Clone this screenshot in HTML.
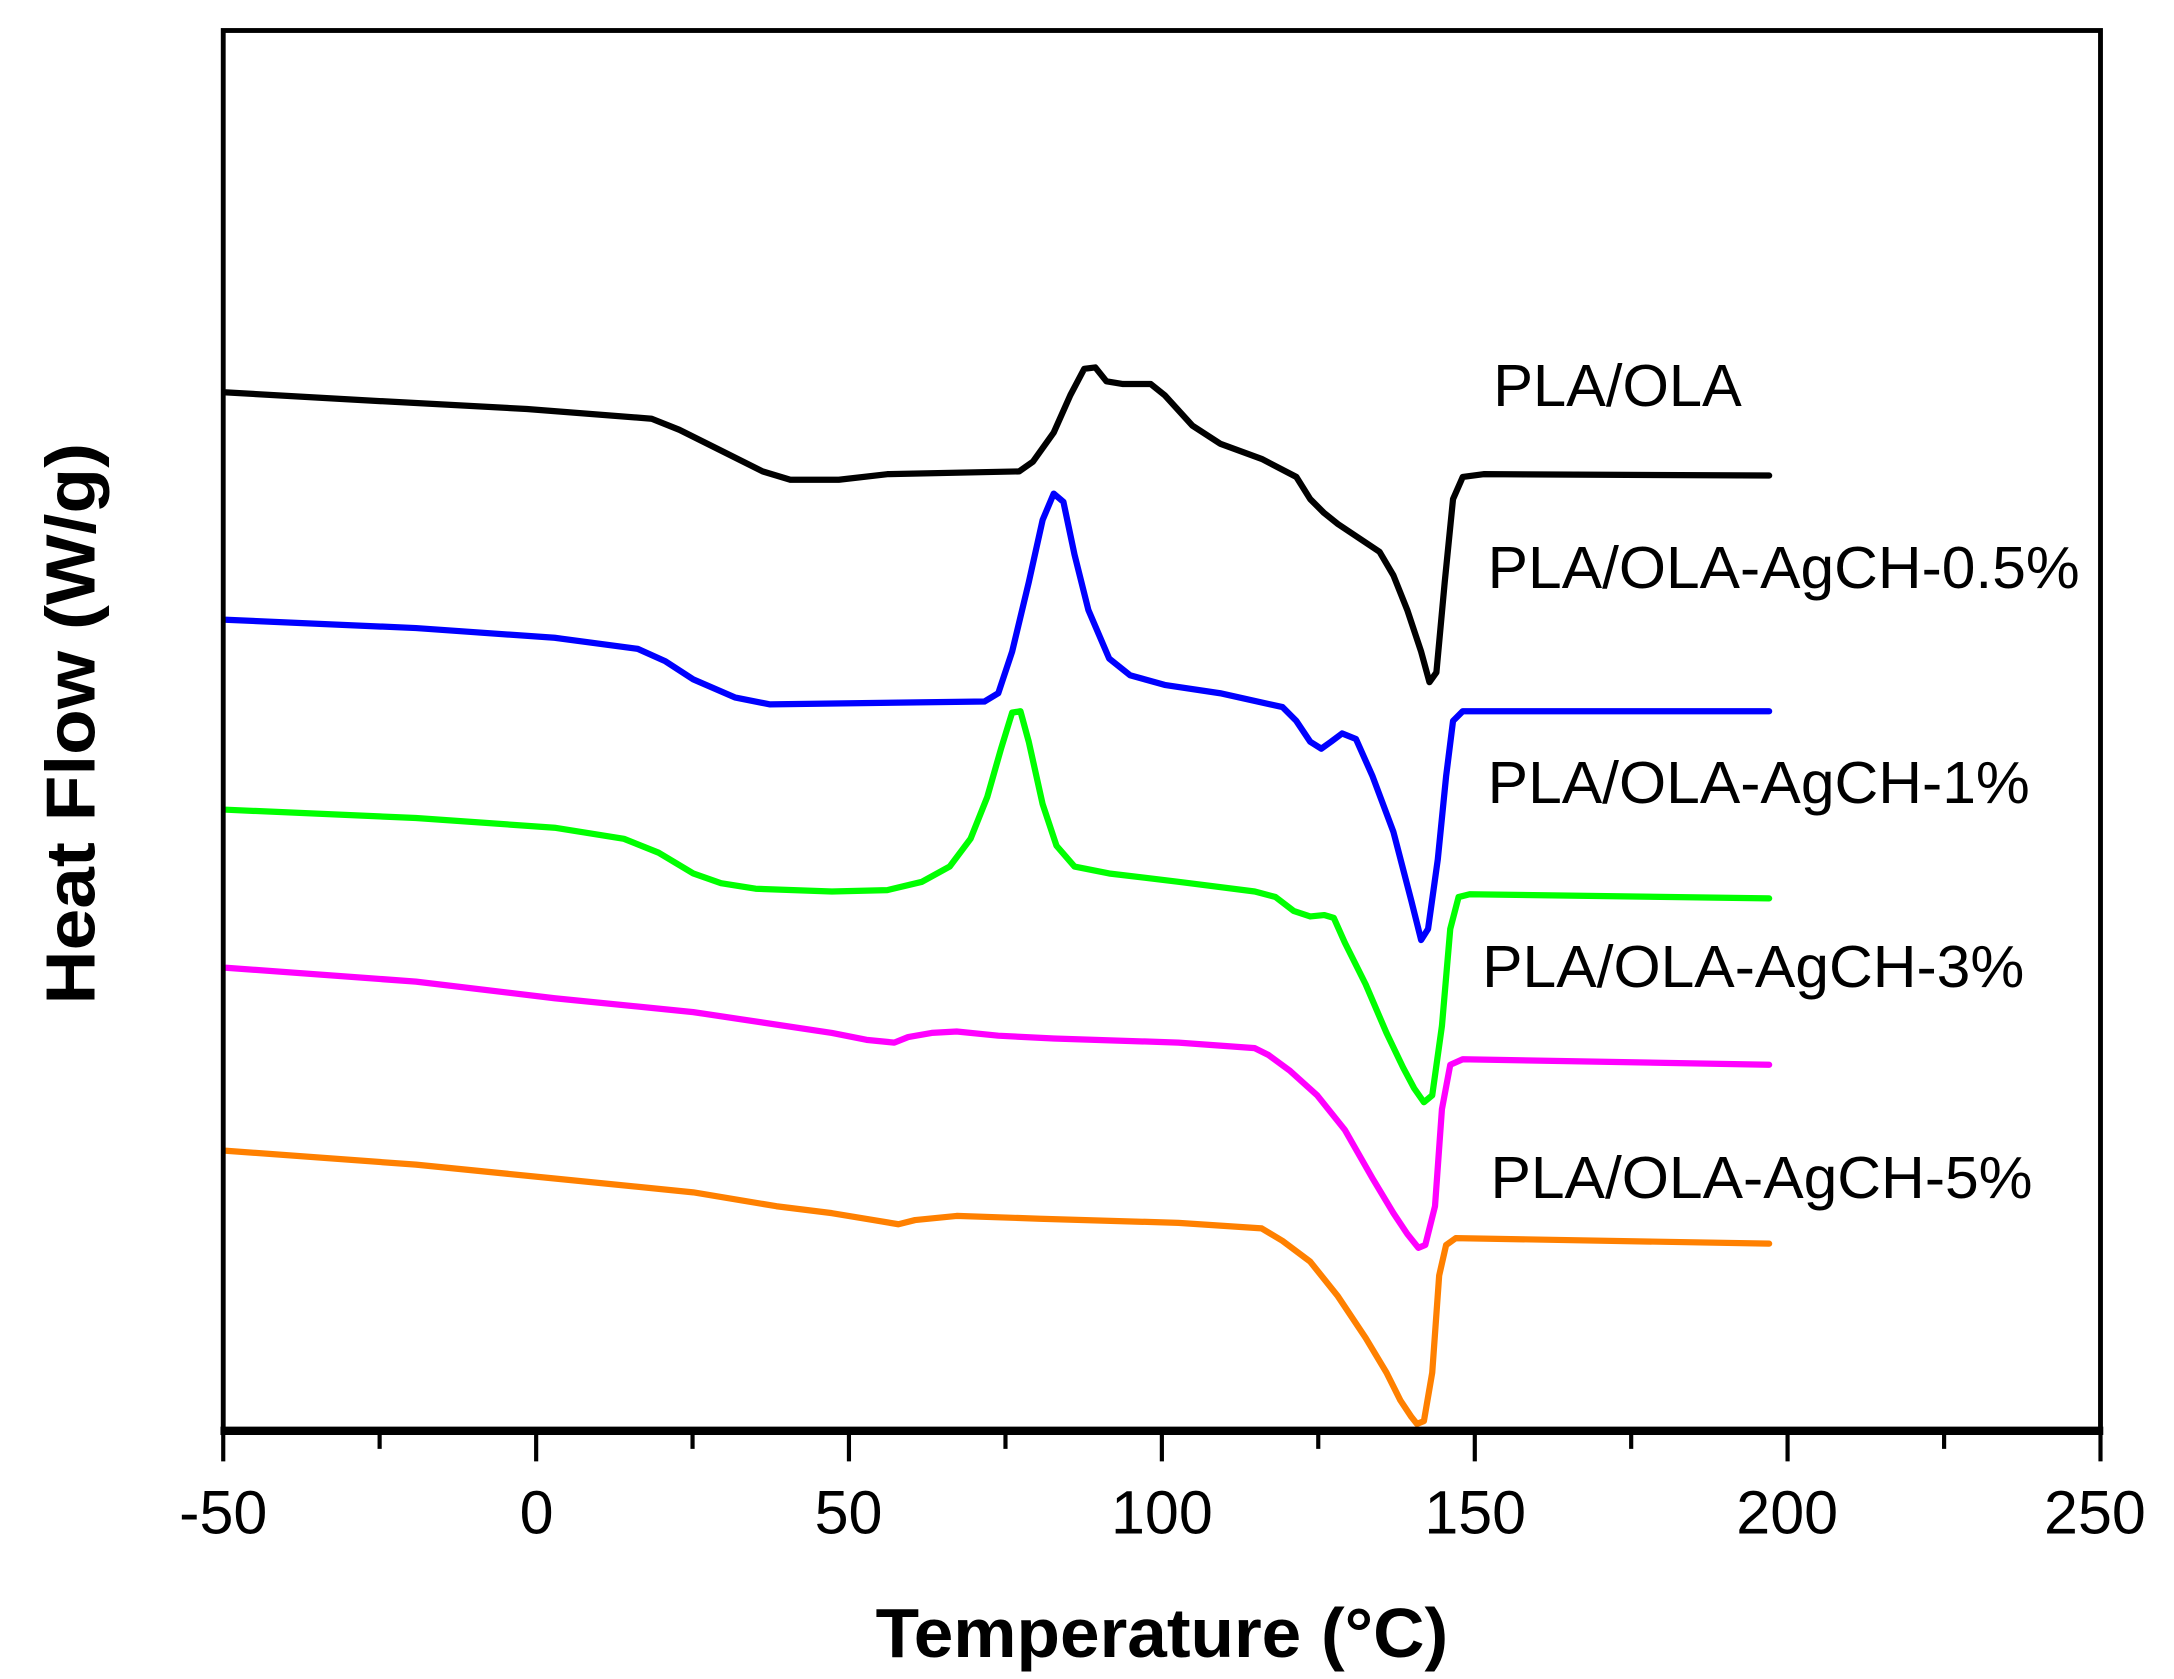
<!DOCTYPE html>
<html><head><meta charset="utf-8"><style>html,body{margin:0;padding:0;background:#fff}svg{display:block}</style></head>
<body>
<svg width="2174" height="1679" viewBox="0 0 1568 1211" xmlns="http://www.w3.org/2000/svg" font-family="Liberation Sans, Arial, sans-serif">
<rect width="1568" height="1211" fill="#fff"/>
<g fill="none" stroke-width="4.5" stroke-linejoin="round" stroke-linecap="round">
<polyline stroke="#000" points="163,283 250,288 380,295 470,302 490,310 520,325 550,340 570,346 605,346 640,342 735,340 745,333 760,312 772,285 782,266 790,265 798,275 810,277 830,277 840,285 860,307 880,320 910,331 935,344 945,360 955,370 965,378 980,388 995,398 1005,415 1015,440 1025,470 1031,492 1036,485 1042,420 1048,360 1055,344 1070,342 1276,343"/>
<polyline stroke="#0000ff" points="163,447 300,453 400,460 460,468 480,477 500,490 530,503 555,508 710,506 720,500 730,470 742,420 752,375 760,356 767,362 775,400 785,440 800,475 815,487 840,494 880,500 925,510 935,520 945,535 953,540 960,535 968,529 978,533 990,560 1005,600 1018,650 1025,678 1030,670 1037,620 1043,560 1048,520 1055,513 1276,513"/>
<polyline stroke="#00ff00" points="163,584 300,590 400,597 450,605 475,615 500,630 520,637 545,641 600,643 640,642 665,636 685,625 700,605 712,575 722,540 730,514 736,513 742,535 752,580 762,610 775,625 800,630 850,636 905,643 920,647 933,657 945,661 955,660 962,662 970,680 985,710 1000,745 1012,770 1020,785 1027,795 1033,790 1040,740 1046,670 1052,647 1060,645 1276,648"/>
<polyline stroke="#ff00ff" points="163,698 300,708 400,720 500,730 600,745 625,750 645,752 655,748 672,745 690,744 720,747 760,749 850,752 905,756 915,761 930,772 950,790 970,815 990,850 1005,875 1015,890 1023,900 1028,898 1035,870 1040,800 1046,768 1055,764 1276,768"/>
<polyline stroke="#ff8000" points="163,830 300,840 400,850 500,860 560,870 600,875 630,880 648,883 660,880 690,877 750,879 850,882 910,886 925,895 945,910 965,935 985,965 1000,990 1010,1010 1018,1022 1022,1027 1027,1025 1033,990 1038,920 1043,898 1050,893 1276,897"/>
</g>
<g stroke="#000" fill="none">
<rect x="161" y="22" width="1354" height="1010" stroke-width="3.5"/>
<line x1="159" y1="1032" x2="1517" y2="1032" stroke-width="6"/>
<path stroke-width="3" d="M161,1032v22M386.7,1032v22M612.3,1032v22M838,1032v22M1063.7,1032v22M1289.3,1032v22M1515,1032v22M273.8,1032v13M499.5,1032v13M725.2,1032v13M950.8,1032v13M1176.5,1032v13M1402.2,1032v13"/>
</g>
<g font-size="44" text-anchor="middle" fill="#000">
<text x="161" y="1106">-50</text><text x="387" y="1106">0</text><text x="612" y="1106">50</text><text x="838" y="1106">100</text><text x="1064" y="1106">150</text><text x="1289" y="1106">200</text><text x="1511" y="1106">250</text>
</g>
<text x="838" y="1195" font-size="50" font-weight="bold" text-anchor="middle" textLength="413" lengthAdjust="spacingAndGlyphs">Temperature (°C)</text>
<text transform="translate(68,522) rotate(-90)" font-size="50" font-weight="bold" text-anchor="middle" textLength="405" lengthAdjust="spacingAndGlyphs">Heat Flow (W/g)</text>
<g font-size="43" fill="#000">
<text x="1077" y="293">PLA/OLA</text>
<text x="1073" y="424" textLength="427" lengthAdjust="spacingAndGlyphs">PLA/OLA-AgCH-0.5%</text>
<text x="1073" y="579" textLength="391" lengthAdjust="spacingAndGlyphs">PLA/OLA-AgCH-1%</text>
<text x="1069" y="712" textLength="391" lengthAdjust="spacingAndGlyphs">PLA/OLA-AgCH-3%</text>
<text x="1075" y="864" textLength="391" lengthAdjust="spacingAndGlyphs">PLA/OLA-AgCH-5%</text>
</g>
</svg>
</body></html>
